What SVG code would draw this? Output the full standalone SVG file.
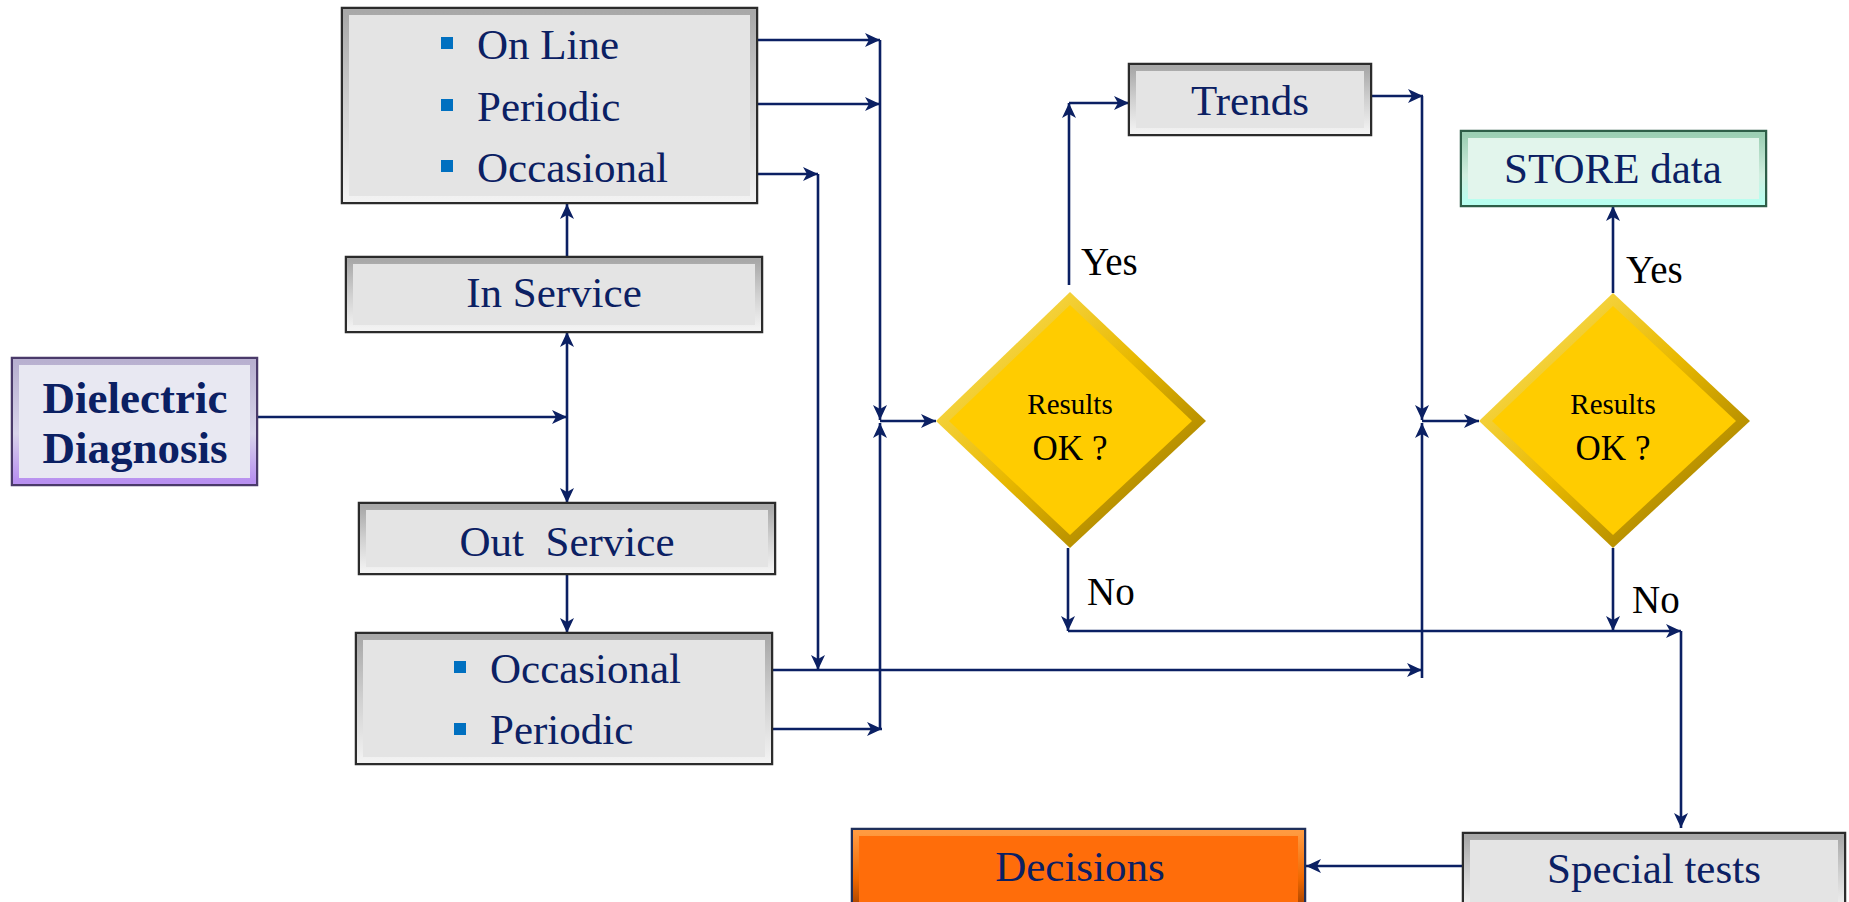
<svg xmlns="http://www.w3.org/2000/svg" width="1849" height="902" viewBox="0 0 1849 902">
<defs>
<style>
.t{font-family:"Liberation Serif","Times New Roman",serif;fill:#0B2063;font-size:43px;text-anchor:middle}
.tl{font-family:"Liberation Serif","Times New Roman",serif;fill:#0B2063;font-size:43px}
.lbl{font-family:"Liberation Serif","Times New Roman",serif;fill:#000;font-size:39px}
.dt{font-family:"Liberation Serif","Times New Roman",serif;fill:#000;font-size:29px;text-anchor:middle}
.ok{font-size:35px}
.bold{font-weight:bold;font-size:45px}
.gray{fill:#E4E4E4;stroke:#2B2B2B;stroke-width:2.5}
.bev{fill:none;stroke:url(#bevGray);stroke-width:6}
.bul{fill:#0070C0}
.c path{fill:none;stroke:#0B2063;stroke-width:2.6;marker-end:url(#ah)}
</style>
<marker id="ah" markerUnits="userSpaceOnUse" markerWidth="16" markerHeight="14" refX="15" refY="7" orient="auto">
<path d="M0,0 L15,7 L0,14 L4,7 Z" fill="#0B2063"/>
</marker>
<linearGradient id="bevGray" x1="0" y1="0" x2="0" y2="1">
<stop offset="0" stop-color="#A8A8A8"/>
<stop offset="0.5" stop-color="#D0D0D0"/>
<stop offset="1" stop-color="#F2F2F2"/>
</linearGradient>
<linearGradient id="bevPurple" x1="0" y1="0" x2="0" y2="1">
<stop offset="0" stop-color="#B8B0D0"/>
<stop offset="0.6" stop-color="#D8D4EA"/>
<stop offset="1" stop-color="#B890F0"/>
</linearGradient>
<linearGradient id="bevGreen" x1="0" y1="0" x2="0" y2="1">
<stop offset="0" stop-color="#9CCFB4"/>
<stop offset="0.6" stop-color="#D0EEDF"/>
<stop offset="1" stop-color="#B8FFF0"/>
</linearGradient>
<linearGradient id="bevOrange" x1="0" y1="0" x2="0" y2="1">
<stop offset="0" stop-color="#FF9A40"/>
<stop offset="0.6" stop-color="#F06800"/>
<stop offset="1" stop-color="#A04000"/>
</linearGradient>
<linearGradient id="gold" x1="0" y1="0" x2="1" y2="1">
<stop offset="0" stop-color="#FFE970"/>
<stop offset="0.5" stop-color="#E8B800"/>
<stop offset="1" stop-color="#8A6A00"/>
</linearGradient>
</defs>

<g id="connectors" class="c">
<path d="M757,40 H880"/>
<path d="M757,104 H880"/>
<path d="M757,174 H818"/>
<path d="M818,174 V670"/>
<path d="M880,40 V420"/>
<path d="M880,729 V423"/>
<path d="M772,729 H882"/>
<path d="M772,670 H1422"/>
<path d="M1422,678 V423"/>
<path d="M1372,96 H1423"/>
<path d="M1422,96 V420"/>
<path d="M1422,421 H1479"/>
<path d="M880,421 H936"/>
<path d="M1069,285 V103"/>
<path d="M1069,103 H1129"/>
<path d="M1613,293 V206"/>
<path d="M1068,548 V631"/>
<path d="M1068,631 H1681"/>
<path d="M1613,548 V631"/>
<path d="M1681,631 V828"/>
<path d="M1463,866 H1306"/>
<path d="M257,417 H567"/>
<path d="M567,417 V332"/>
<path d="M567,417 V503"/>
<path d="M567,257 V204"/>
<path d="M567,574 V633"/>
</g>

<g id="inServiceTypes">
<rect class="gray" x="342" y="8" width="415" height="195"/>
<rect class="bev" x="346" y="12" width="407" height="187"/>
<rect class="bul" x="441" y="37" width="12" height="12"/>
<text class="tl" x="477" y="59">On Line</text>
<rect class="bul" x="441" y="99" width="12" height="12"/>
<text class="tl" x="477" y="121">Periodic</text>
<rect class="bul" x="441" y="160" width="12" height="12"/>
<text class="tl" x="477" y="182">Occasional</text>
</g>

<g id="inService">
<rect class="gray" x="346" y="257" width="416" height="75"/>
<rect class="bev" x="350" y="261" width="408" height="67"/>
<text class="t" x="554" y="307">In Service</text>
</g>

<g id="dielectric">
<rect x="12" y="358" width="245" height="127" fill="#E8E8F2" stroke="#4A3A6A" stroke-width="2.5"/>
<rect x="16" y="362" width="237" height="119" fill="none" stroke="url(#bevPurple)" stroke-width="6"/>
<text class="t bold" x="135" y="413">Dielectric</text>
<text class="t bold" x="135" y="463">Diagnosis</text>
</g>

<g id="outService">
<rect class="gray" x="359" y="503" width="416" height="71"/>
<rect class="bev" x="363" y="507" width="408" height="63"/>
<text class="t" x="567" y="556" xml:space="preserve">Out  Service</text>
</g>

<g id="outServiceTypes">
<rect class="gray" x="356" y="633" width="416" height="131"/>
<rect class="bev" x="360" y="637" width="408" height="123"/>
<rect class="bul" x="454" y="661" width="12" height="12"/>
<text class="tl" x="490" y="683">Occasional</text>
<rect class="bul" x="454" y="723" width="12" height="12"/>
<text class="tl" x="490" y="744">Periodic</text>
</g>

<g id="decision1">
<polygon points="1070,292 1206,421 1070,548 936,421" fill="url(#gold)"/>
<polygon points="1070,305 1192,421 1070,535 949,421" fill="#FFCC00"/>
<text class="dt" x="1070" y="414">Results</text>
<text class="dt ok" x="1070" y="460">OK ?</text>
</g>

<g id="trends">
<rect class="gray" x="1129" y="64" width="242" height="71"/>
<rect class="bev" x="1133" y="68" width="234" height="63"/>
<text class="t" x="1250" y="115">Trends</text>
</g>

<g id="decision2">
<polygon points="1613,293 1750,421 1613,548 1479,421" fill="url(#gold)"/>
<polygon points="1613,306 1736,421 1613,535 1492,421" fill="#FFCC00"/>
<text class="dt" x="1613" y="414">Results</text>
<text class="dt ok" x="1613" y="460">OK ?</text>
</g>

<g id="store">
<rect x="1461" y="131" width="305" height="75" fill="#E2F5EC" stroke="#2E5E48" stroke-width="2.5"/>
<rect x="1465" y="135" width="297" height="67" fill="none" stroke="url(#bevGreen)" stroke-width="6"/>
<text class="t" x="1613" y="183">STORE data</text>
</g>

<g id="special">
<rect class="gray" x="1463" y="833" width="382" height="80"/>
<rect class="bev" x="1467" y="837" width="374" height="72"/>
<text class="t" x="1654" y="883">Special tests</text>
</g>

<g id="decisions">
<rect x="852" y="829" width="453" height="84" fill="#FF6D0A" stroke="#1F2F5A" stroke-width="2.5"/>
<rect x="856" y="833" width="445" height="76" fill="none" stroke="url(#bevOrange)" stroke-width="6"/>
<text class="t" x="1080" y="881">Decisions</text>
</g>

<g id="labels">
<text class="lbl" x="1081" y="275">Yes</text>
<text class="lbl" x="1626" y="283">Yes</text>
<text class="lbl" x="1087" y="605">No</text>
<text class="lbl" x="1632" y="613">No</text>
</g>
</svg>
